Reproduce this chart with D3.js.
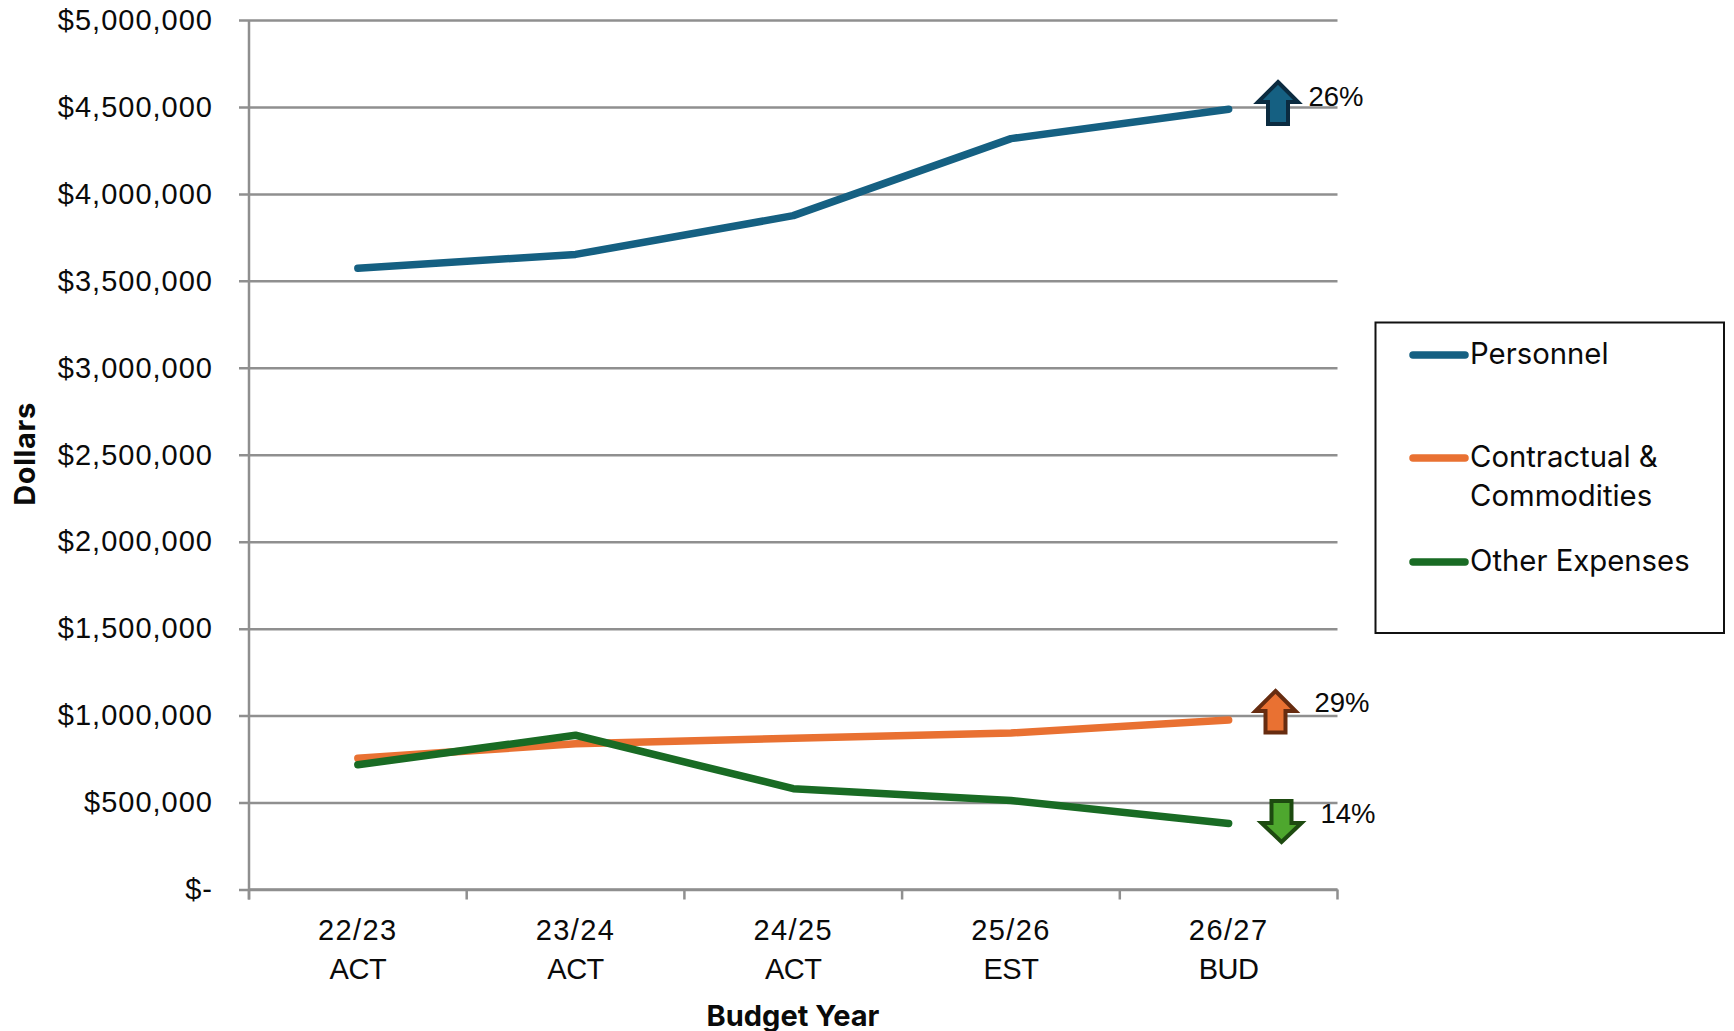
<!DOCTYPE html>
<html>
<head>
<meta charset="utf-8">
<script src="https://cdn.jsdelivr.net/npm/d3@7/dist/d3.min.js"></script>
<style>
  html, body { margin: 0; padding: 0; background: #fff; }
  svg { display: block; }
  .axis text { font-family: "Liberation Sans", Arial, sans-serif; font-size: 29px; letter-spacing: 1px; fill: #0a0a0a; }
  .axis text.cat { letter-spacing: 1.4px; }
  .axis text.phase { letter-spacing: -0.5px; }
  .title { font-family: "Inter", "Noto Sans", sans-serif; font-weight: 700; font-size: 29px; fill: #0a0a0a; }
  .axis path, .axis line { stroke: #8f8f8f; stroke-width: 2.5px; }
  .legend text { font-family: "Inter", "Noto Sans", sans-serif; font-size: 29.3px; fill: #0a0a0a; }
  .pct { font-family: "Liberation Sans", Arial, sans-serif; font-size: 27.5px; fill: #0a0a0a; }
</style>
</head>
<body>
<svg id="chart" width="1734" height="1031"></svg>
<script>
// Budget categories along the horizontal axis
const years = ["22/23", "23/24", "24/25", "25/26", "26/27"];
const phases = ["ACT", "ACT", "ACT", "EST", "BUD"];
const yTicks = [0, 500000, 1000000, 1500000, 2000000, 2500000, 3000000, 3500000, 4000000, 4500000, 5000000];

// Spending by category, in dollars
const personnel = [3572000, 3652000, 3875000, 4318000, 4487000];
const contractual = [755000, 838000, 870000, 900000, 975000];
const otherExpenses = [717000, 887000, 580000, 512000, 380000];

// Change from first to last year
const changes = ["26%", "29%", "14%"];
const seriesNames = ["Personnel", "Contractual &\nCommodities", "Other Expenses"];
const seriesColors = ["#156082", "#E97132", "#196B24"];

const svg = d3.select("#chart");
const plot = { left: 249, right: 1337.5, top: 20, bottom: 889.5 };

const x = d3.scaleBand().domain(years).range([plot.left, plot.right]);
const y = d3.scaleLinear().domain([0, 5000000]).range([plot.bottom, plot.top]);

// Horizontal gridlines, drawn from the left tick to the right edge
svg.append("g").attr("class", "axis")
  .attr("transform", `translate(${plot.left},0)`)
  .call(d3.axisLeft(y).tickValues(yTicks).tickSize(10).tickPadding(26)
    .tickFormat(d => d === 0 ? "$-" : d3.format("$,")(d)))
  .call(g => g.select(".domain").attr("d", `M0,${plot.top}V${plot.bottom + 10}`))
  .call(g => g.selectAll(".tick line").attr("x1", -10).attr("x2", plot.right - plot.left))
  .call(g => g.selectAll(".tick text").attr("dy", "0.32em"));

// Category axis: ticks fall on band edges, labels sit on two lines at band centres
const xg = svg.append("g").attr("class", "axis")
  .attr("transform", `translate(0,${plot.bottom})`);
xg.append("path").attr("d", `M${plot.left},0H${plot.right}`).attr("fill", "none");
xg.selectAll("line.edge").data(years.concat("end")).join("line")
  .attr("class", "edge")
  .attr("x1", (d, i) => plot.left + i * x.bandwidth())
  .attr("x2", (d, i) => plot.left + i * x.bandwidth())
  .attr("y1", 0).attr("y2", 10);
xg.selectAll("text.cat").data(years).join("text")
  .attr("class", "cat").attr("text-anchor", "middle")
  .attr("x", d => x(d) + x.bandwidth() / 2).attr("y", 50.5).text(d => d);
xg.selectAll("text.phase").data(years).join("text")
  .attr("class", "phase").attr("text-anchor", "middle")
  .attr("x", d => x(d) + x.bandwidth() / 2).attr("y", 89.5).text((d, i) => phases[i]);

// Series lines
const line = d3.line().x((d, i) => x(years[i]) + x.bandwidth() / 2).y(d => y(d));
[personnel, contractual, otherExpenses].forEach((values, i) => {
  svg.append("path").datum(values)
    .attr("d", line)
    .attr("fill", "none")
    .attr("stroke", seriesColors[i])
    .attr("stroke-width", 7.5)
    .attr("stroke-linecap", "round")
    .attr("stroke-linejoin", "round");
});

// Block arrows showing the direction of each change
function blockArrow(cx, tipY, wingY, endY, halfWing, halfShaft) {
  return `M${cx},${tipY}L${cx + halfWing},${wingY}H${cx + halfShaft}V${endY}H${cx - halfShaft}V${wingY}H${cx - halfWing}Z`;
}
const arrows = [
  { d: blockArrow(1278, 82, 102, 124, 20, 10), fill: "#156082", stroke: "#0b2b40", tx: 1308.5, ty: 106 },
  { d: blockArrow(1275.5, 691, 711, 732.5, 20, 10), fill: "#E97132", stroke: "#672c10", tx: 1314.5, ty: 712 },
  { d: blockArrow(1281.5, 842, 823, 801, 20, 10), fill: "#4EA72E", stroke: "#1d4a10", tx: 1320.5, ty: 823 }
];
arrows.forEach((a, i) => {
  svg.append("path").attr("d", a.d).attr("fill", a.fill)
    .attr("stroke", a.stroke).attr("stroke-width", 4).attr("stroke-linejoin", "miter");
  svg.append("text").attr("class", "pct").attr("x", a.tx).attr("y", a.ty).text(changes[i]);
});

// Axis titles
svg.append("text").attr("class", "title")
  .attr("x", 793).attr("y", 1025.5).attr("text-anchor", "middle").text("Budget Year");
svg.append("text").attr("class", "title")
  .attr("transform", "translate(35,454) rotate(-90)").attr("text-anchor", "middle")
  .attr("letter-spacing", "0.6").text("Dollars");

// Legend box
const legend = svg.append("g").attr("class", "legend");
legend.append("rect")
  .attr("x", 1375.5).attr("y", 322.5).attr("width", 348.5).attr("height", 310.5)
  .attr("fill", "#fff").attr("stroke", "#111").attr("stroke-width", 2);
const legendY = [355, 458, 562];
seriesNames.forEach((name, i) => {
  legend.append("line")
    .attr("x1", 1413).attr("x2", 1465).attr("y1", legendY[i]).attr("y2", legendY[i])
    .attr("stroke", seriesColors[i]).attr("stroke-width", 7.5).attr("stroke-linecap", "round");
  name.split("\n").forEach((part, j) => {
    legend.append("text").attr("x", 1470).attr("y", legendY[i] + 9 + j * 38.5).text(part);
  });
});
</script>
</body>
</html>
